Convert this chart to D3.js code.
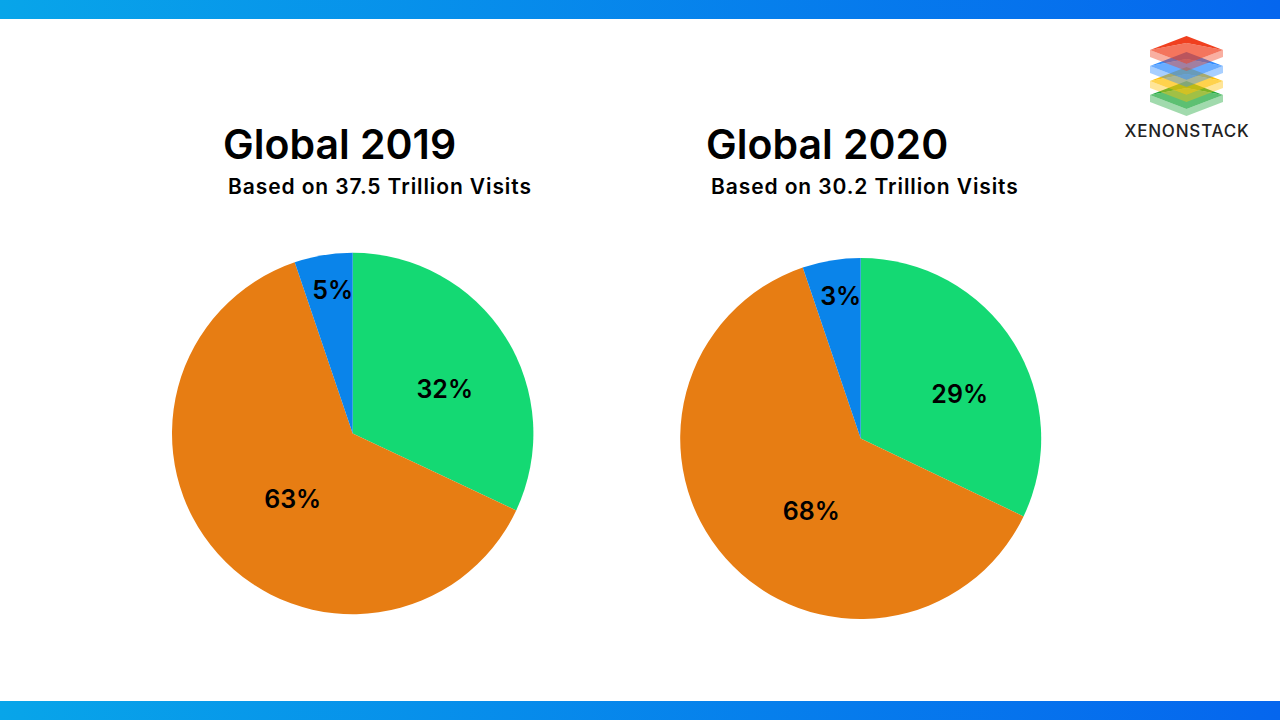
<!DOCTYPE html>
<html>
<head>
<meta charset="utf-8">
<script src="https://cdn.jsdelivr.net/npm/d3@7"></script>
<style>
  html, body { margin: 0; padding: 0; background: #fff; }
  text { font-family: "Inter", "Noto Sans", sans-serif; fill: #000; }
</style>
</head>
<body>
<svg id="chart" width="1280" height="720"></svg>
<script>
// Slice names and drawn shares, both pies use the same geometry in the picture
const sliceNames = ["Green", "Orange", "Blue"];
const sliceColors = ["#14d973", "#e77d13", "#0a84ea"];
const drawnShares2019 = [32, 62.8, 5.2];
const drawnShares2020 = [32.1, 62.7, 5.2];
const labels2019 = ["32%", "63%", "5%"];
const labels2020 = ["29%", "68%", "3%"];
const titles = ["Global 2019", "Global 2020"];
const subtitles = ["Based on 37.5 Trillion Visits", "Based on 30.2 Trillion Visits"];

const svg = d3.select("#chart");
const defs = svg.append("defs");

// Top and bottom bars
const grad = defs.append("linearGradient").attr("id", "bar-grad");
grad.append("stop").attr("offset", "0%").attr("stop-color", "#08a5e9");
grad.append("stop").attr("offset", "100%").attr("stop-color", "#0566ee");
svg.append("rect").attr("width", 1280).attr("height", 19).attr("fill", "url(#bar-grad)");
svg.append("rect").attr("y", 701).attr("width", 1280).attr("height", 19).attr("fill", "url(#bar-grad)");

const pie = d3.pie().sort(null).value((d) => d);

// Labels are hand placed in the original, not on the slice centre line
function drawPie(cx, cy, r, shares, labels, labelOffsets) {
  const arc = d3.arc().innerRadius(0).outerRadius(r);
  const g = svg.append("g").attr("transform", `translate(${cx},${cy})`);
  g.selectAll("path")
    .data(pie(shares))
    .enter()
    .append("path")
    .attr("d", arc)
    .attr("fill", (d, i) => sliceColors[i]);
  g.selectAll("text")
    .data(labels)
    .enter()
    .append("text")
    .attr("x", (d, i) => labelOffsets[i][0])
    .attr("y", (d, i) => labelOffsets[i][1])
    .attr("text-anchor", "middle")
    .attr("dy", "0.36em")
    .attr("font-size", 25)
    .attr("font-weight", 600)
    .text((d) => d);
}

drawPie(352.7, 433.5, 180.7, drawnShares2019, labels2019, [[92, -44.5], [-60, 65], [-20, -144]]);
drawPie(860.7, 438.5, 180.5, drawnShares2020, labels2020, [[99, -44.5], [-49.5, 72], [-20, -142.5]]);

// Headings
const titleX = [223, 706];
const subX = [228, 711];
titles.forEach((t, i) => {
  svg.append("text").attr("x", titleX[i]).attr("y", 159)
    .attr("font-size", 41).attr("font-weight", 600).text(t);
  svg.append("text").attr("x", subX[i]).attr("y", 194)
    .attr("font-size", 21).attr("font-weight", 600)
    .attr("letter-spacing", 0.9).text(subtitles[i]);
});

// Logo: stacked translucent layers, bottom one first
const logoLayers = [
  { color: "#1fa83c", side: 95 },
  { color: "#ffc107", side: 81 },
  { color: "#2f8cff", side: 66 },
  { color: "#f0401f", side: 50 },
];
const logoHalfW = 36.5;
const logo = svg.append("g").attr("transform", "translate(1186.5,0)");
logoLayers.forEach((l) => {
  const w = logoHalfW, s = l.side;
  // lower band
  logo.append("path")
    .attr("d", `M${-w},${s}L0,${s + 14}L${w},${s}V${s + 7}L0,${s + 21}L${-w},${s + 7}Z`)
    .attr("fill", l.color).attr("opacity", 0.42);
  // inner face
  logo.append("path")
    .attr("d", `M${-w},${s}L0,${s - 7}L${w},${s}L0,${s + 14}Z`)
    .attr("fill", l.color).attr("opacity", 0.72);
  // dark top edges
  logo.append("path")
    .attr("d", `M${-w},${s}L0,${s - 14}L${w},${s}L0,${s - 7}Z`)
    .attr("fill", l.color).attr("opacity", 1);
});
svg.append("text").attr("x", 1187).attr("y", 137).attr("text-anchor", "middle")
  .attr("font-size", 17).attr("font-weight", 500).attr("letter-spacing", 0.8)
  .style("fill", "#222").text("XENONSTACK");
</script>
</body>
</html>
